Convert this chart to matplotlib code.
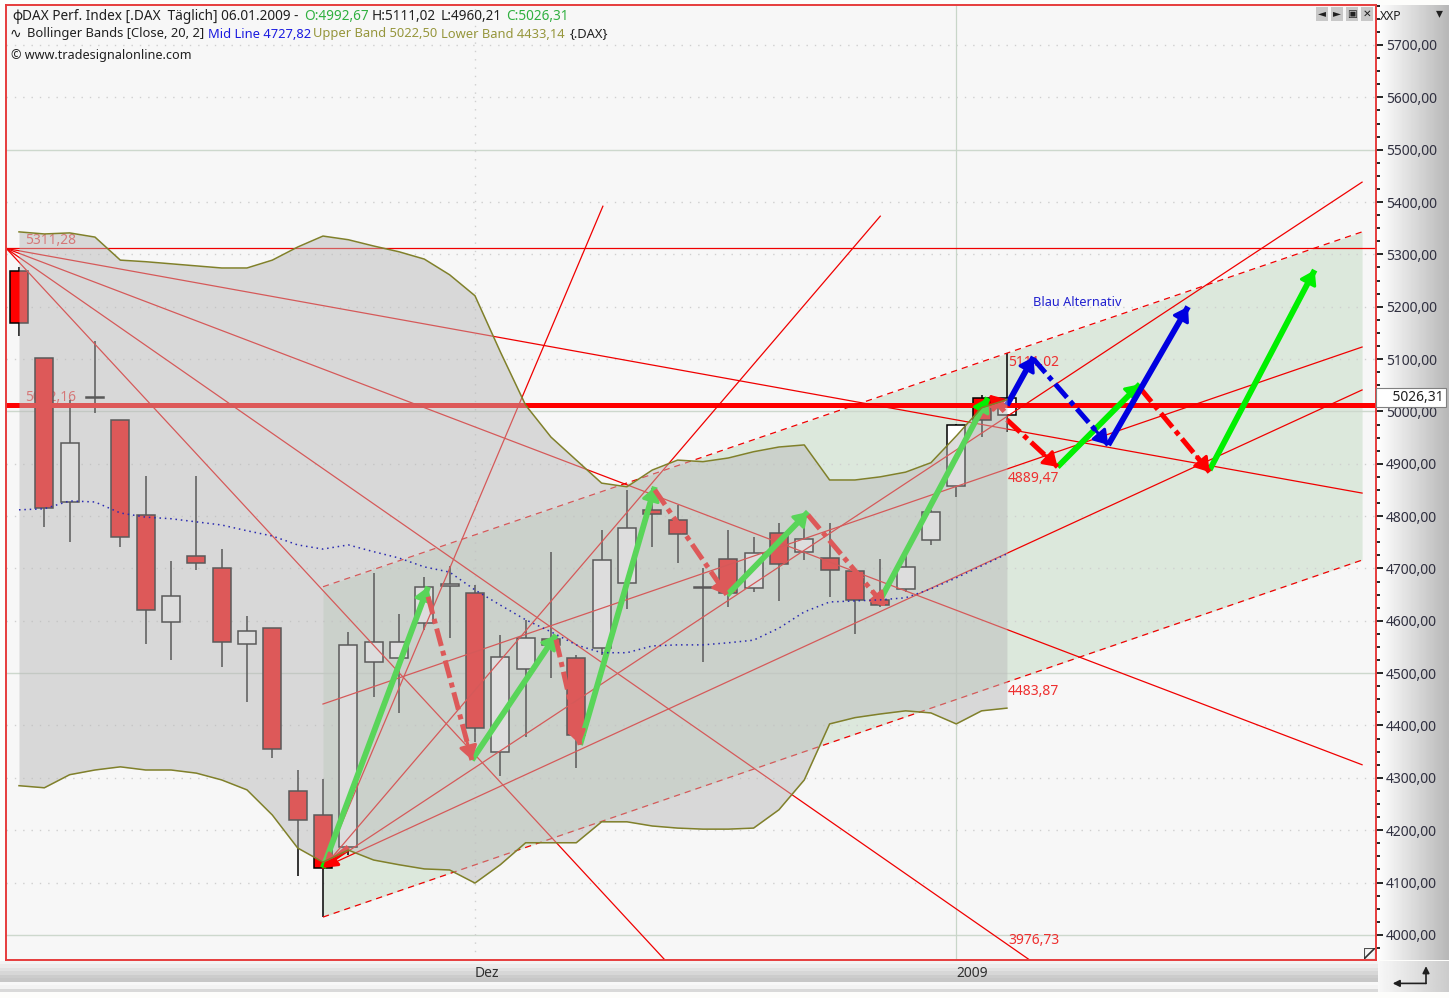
import numpy as np
import matplotlib
matplotlib.use('Agg')
import matplotlib.pyplot as plt

plt.rcParams['font.family'] = ['Noto Sans', 'DejaVu Sans']

### candle data, one entry per trading day

opens = [5268, 5102, 4827, 5026, 4984, 4802, 4598, 4724, 4701, 4556, 4586, 4275, 4229, 4168, 4521, 4529, 4596, 4667, 4653, 4350,
         4508, 4565, 4529, 4548, 4672, 4812, 4793, 4663, 4718, 4663, 4768, 4732, 4720, 4695, 4640, 4661, 4755, 4858, 5026, 4992.67]
highs = [5275, 5102, 5022, 5135, 4984, 4877, 4714, 4877, 4737, 4609, 4586, 4315, 4298, 4579, 4691, 4613, 4684, 4705, 4669, 4573,
         4602, 4732, 4535, 4774, 4850, 4854, 4821, 4701, 4774, 4760, 4787, 4783, 4787, 4699, 4718, 4724, 4812, 4976, 5031, 5111.02]
lows = [5144, 4779, 4751, 4997, 4741, 4556, 4525, 4697, 4512, 4445, 4338, 4113, 4034, 4153, 4455, 4424, 4583, 4567, 4369, 4304,
        4378, 4491, 4319, 4535, 4623, 4741, 4711, 4521, 4627, 4655, 4638, 4716, 4646, 4575, 4627, 4655, 4745, 4837, 4951, 4960.21]
closes = [5169, 4816, 4940, 5028, 4760, 4621, 4648, 4711, 4560, 4581, 4355, 4220, 4128, 4554, 4560, 4560, 4665, 4671, 4395, 4531,
          4567, 4554, 4382, 4716, 4777, 4804, 4766, 4665, 4653, 4730, 4709, 4756, 4697, 4640, 4630, 4703, 4808, 4974, 4984, 5026.31]

upper_band = [5343, 5339, 5341, 5333, 5289, 5286, 5282, 5278, 5274, 5274, 5289, 5314, 5335, 5328, 5316, 5305, 5291, 5261, 5221, 5114,
              5012, 4951, 4907, 4863, 4856, 4888, 4907, 4904, 4911, 4923, 4932, 4936, 4869, 4869, 4875, 4884, 4902, 4953, 5007, 5022.5]
lower_band = [4285, 4281, 4306, 4315, 4321, 4315, 4315, 4309, 4296, 4277, 4229, 4166, 4139, 4162, 4143, 4134, 4126, 4124, 4099, 4134,
              4176, 4176, 4176, 4216, 4216, 4208, 4204, 4202, 4202, 4204, 4239, 4296, 4403, 4415, 4422, 4428, 4424, 4403, 4428, 4433.14]
mid_band = [4812, 4814, 4829, 4827, 4806, 4798, 4795, 4789, 4783, 4772, 4762, 4745, 4737, 4745, 4732, 4720, 4703, 4693, 4659, 4630,
            4602, 4579, 4554, 4539, 4539, 4552, 4554, 4554, 4558, 4563, 4586, 4617, 4636, 4638, 4640, 4644, 4661, 4682, 4705, 4727.82]

### drawn objects, (bar, price)

fan_high = (-0.5, 5311.28)
fan_high_ends = [(53.02, 4844), (53.02, 4325), (39.9, 3952), (25.5, 3952)]
fan_low = (12, 4128)
fan_low_ends = [(23.05, 5392), (34, 5373), (53.02, 5438), (53.02, 5041)]
mid_trend = [(12, 4441), (53.02, 5123)]
channel_x = [12, 53.02]
channel_top = [4665, 5343]
channel_bottom = [4034, 4716]
level_high = 5311.28
level_mid = 5012.16

green_arrows = [((12, 4128), (16.15, 4665)), ((17.88, 4334), (21.2, 4573)), ((22.15, 4363), (25.1, 4856)),
                ((27.95, 4649), (31.15, 4808)), ((34, 4640), (38.25, 5026)), ((41, 4894), (44.25, 5052)),
                ((47, 4888), (51.15, 5270))]
red_arrows = [((16.15, 4646), (17.88, 4334)), ((21.2, 4564), (22.15, 4363)), ((25.1, 4850), (27.95, 4649)),
              ((31.15, 4802), (34.2, 4627)), ((39, 4984), (41, 4894)), ((44.25, 5045), (47, 4884)),
              ((13, 4168), (12, 4128)), ((38.9, 5000), (38.3, 5032))]
blue_arrows = [((39, 5012), (40.05, 5104)), ((43, 4936), (46.15, 5200))]
blue_dashed = [((40.05, 5100), (43, 4936))]

price_labels = [(0.25, 5311.28, '5311,28'), (0.25, 5012.16, '5012,16')]
right_labels = [(39.05, 5111.02, '5111,02', 'top'), (39.05, 4889.47, '4889,47', 'top'),
                (39.05, 4483.87, '4483,87', 'top'), (39.05, 3976.73, '3976,73', 'bottom')]

W, H = 1449, 998
fig = plt.figure(figsize=(W / 100, H / 100), dpi=100, facecolor='#fdfdfb')


def add_axes_px(x0, y0, x1, y1, **kw):
    return fig.add_axes([x0 / W, 1 - y1 / H, (x1 - x0) / W, (y1 - y0) / H], **kw)


def gutter(x0, y0, x1, y1, grad):
    g = add_axes_px(x0, y0, x1, y1, zorder=-1)
    g.imshow(grad, cmap='gray', vmin=0, vmax=1, aspect='auto')
    g.axis('off')


gutter(1377, 5, W, 960, np.linspace(1, 0.72, 64).reshape(1, -1))
gutter(0, 961, 1378, 992, np.array([[0.95], [0.92], [0.88], [0.84], [0.80], [0.78], [0.97], [0.95], [0.85]]))
gutter(1378, 961, W, 992, np.linspace(0.97, 0.8, 64).reshape(1, -1))

ax = add_axes_px(6, 5, 1376, 960, zorder=1)
ax.set_facecolor('#f7f7f7')
ax.set_xlim(-0.513, 53.57)
ax.set_ylim(3952, 5776.4)

### background

ax.fill_between(channel_x, channel_bottom, channel_top, color=(160 / 255, 200 / 255, 160 / 255), alpha=0.3, lw=0, zorder=1)

for lvl in range(4000, 5800, 100):
    if lvl % 500 == 0:
        ax.axhline(lvl, color='#cdd8cd', lw=1.0, zorder=1.5)
    else:
        ax.axhline(lvl, color='#cfcfcf', lw=1.0, ls=(0, (1, 5)), zorder=1.5)
ax.axvline(18, color='#cfcfcf', lw=1.0, ls=(0, (1, 5)), zorder=1.5)
ax.axvline(37, color='#c8d6c8', lw=0.9, zorder=1.5)

for bx, by, txt in price_labels:
    ax.text(bx, by, txt, color='#f03c3c', fontsize=10, va='bottom', zorder=2)

### candles

bars = np.arange(len(opens))
ax.vlines(bars, lows, highs, color='black', lw=1.1, zorder=3)
for i in bars:
    lo, hi = min(opens[i], closes[i]), max(opens[i], closes[i])
    col = 'red' if closes[i] < opens[i] else 'white'
    ax.bar(i, hi - lo, bottom=lo, width=0.71, color=col, edgecolor='black', lw=1.1, zorder=3.1)

### lines

line_red = '#f00000'
ax.axhline(level_high, color=line_red, lw=0.9, zorder=4)
ax.axhline(level_mid, color='red', lw=3.6, zorder=4)
for end in fan_high_ends:
    ax.plot([fan_high[0], end[0]], [fan_high[1], end[1]], color=line_red, lw=0.9, zorder=4)
for end in fan_low_ends:
    ax.plot([fan_low[0], end[0]], [fan_low[1], end[1]], color=line_red, lw=0.9, zorder=4)
ax.plot([p[0] for p in mid_trend], [p[1] for p in mid_trend], color=line_red, lw=0.9, zorder=4)
ax.plot(channel_x, channel_top, color=line_red, lw=0.9, ls=(0, (5, 4)), zorder=4)
ax.plot(channel_x, channel_bottom, color=line_red, lw=0.9, ls=(0, (5, 4)), zorder=4)

for bx, by, txt, va in right_labels:
    offset = -1.5 if va == 'top' else -1
    ax.annotate(txt, (bx, by), xytext=(0, offset), textcoords='offset points', color='#ee3030', fontsize=10, va=va, zorder=4.5)


def arrow(start, end, col, dashed=False):
    start, end = np.array(start), np.array(end)
    if dashed:
        ax.plot([start[0], end[0]], [start[1], end[1]], color=col, lw=3.6, ls=(0, (3.6, 1, 1, 1)), zorder=5)
    else:
        ax.plot([start[0], end[0]], [start[1], end[1]], color=col, lw=4.2, zorder=5, solid_capstyle='butt')
    # head drawn on a short solid stub so it always points along the shaft
    a, b = ax.transData.transform([start, end])
    length = np.hypot(*(b - a))
    stub = min(20, length)
    tail = ax.transData.inverted().transform(b - (b - a) / length * stub)
    ax.annotate('', xy=end, xytext=tail, zorder=5,
                arrowprops=dict(arrowstyle='-|>,head_length=0.55,head_width=0.36', color=col, lw=2.2,
                                mutation_scale=15, shrinkA=0, shrinkB=0))


for s, e in green_arrows:
    arrow(s, e, '#00f000')
for s, e in red_arrows:
    arrow(s, e, '#ff0000', dashed=True)
for s, e in blue_arrows:
    arrow(s, e, '#0000e0')
for s, e in blue_dashed:
    arrow(s, e, '#0000e0', dashed=True)

### bollinger bands on top of everything else

ax.fill_between(bars, lower_band, upper_band, color=(185 / 255, 185 / 255, 185 / 255), alpha=0.486, lw=0, zorder=6)
ax.plot(bars, upper_band, color='#80802a', lw=1.1, zorder=7)
ax.plot(bars, lower_band, color='#80802a', lw=1.1, zorder=7)
ax.plot(bars, mid_band, color='#2a2ab0', lw=1.1, ls=(0, (1, 2.5)), zorder=7)

ax.text(40.03, 5208, 'Blau Alternativ', color='#2020d0', fontsize=9.2, va='center', zorder=7)

### axes

ax.yaxis.tick_right()
ax.set_yticks(range(4000, 5800, 100))
ax.set_yticklabels(['%d,00' % v for v in range(4000, 5800, 100)])
ax.set_yticks(np.arange(3975, 5776, 25), minor=True)
ax.tick_params(axis='y', which='major', length=5, width=1.2, pad=2, labelsize=10, labelcolor='#303040')
ax.tick_params(axis='y', which='minor', length=3, width=1.2)
ax.set_xticks([18, 37])
ax.set_xticklabels(['Dez', '2009'], ha='left', fontsize=10, color='#303030')
ax.tick_params(axis='x', length=0, pad=4)
for s in ax.spines.values():
    s.set_color('#e63c3c')
    s.set_linewidth(1.4)
    s.set_zorder(10)

ax.text(1.0015, 5026.31, '    5026,31', transform=ax.get_yaxis_transform(), fontsize=10, color='#202020', va='center', ha='left',
        bbox=dict(boxstyle='square,pad=0.15', fc='white', ec='#808080', lw=0.8), zorder=12, clip_on=False)


def label(x, y, txt, col='#202020', size=9.3):
    fig.text(x / W, 1 - y / H, txt, color=col, fontsize=size, va='center', ha='left', zorder=20)


### legend and window furniture

label(12, 16, '\u0444', size=9.8)
label(22, 16, 'DAX Perf. Index [.DAX  T\u00e4glich] 06.01.2009 -', size=9.8)
label(304, 16, 'O:4992,67', '#30b040', size=9.8)
label(372, 16, 'H:5111,02', size=9.8)
label(441, 16, 'L:4960,21', size=9.8)
label(506, 16, 'C:5026,31', '#30b040', size=9.8)
label(10, 34, '\u223f', size=10)
label(27, 34, 'Bollinger Bands [Close, 20, 2]')
label(208, 34, 'Mid Line 4727,82', '#1a1ae0')
label(313, 34, 'Upper Band 5022,50', '#96963c')
label(441, 34, 'Lower Band 4433,14', '#96963c')
label(570, 34, '{.DAX}')
label(11, 55, '\u00a9 www.tradesignalonline.com', size=9.1)
label(1380, 16, 'XXP', size=8.8)
label(1436, 14, '\u25be', size=10)

for bx, glyph in zip([1316, 1331, 1346, 1361], ['\u25c4', '\u25ba', '\u25a3', '\u2715']):
    fig.text((bx + 6) / W, 1 - 14 / H, glyph, fontsize=7.5, ha='center', va='center', color='#202020', zorder=20,
             bbox=dict(boxstyle='square,pad=0.15', fc='#c8c8c8', ec='none'))

corner = add_axes_px(1364, 948, 1375, 959, zorder=3)
corner.plot([0, 1, 1, 0, 0], [0, 0, 1, 1, 0], color='#505050', lw=0.8)
corner.plot([0, 1], [0, 1], color='#303030', lw=1.2)
corner.set_xlim(0, 1)
corner.set_ylim(0, 1)
corner.axis('off')

enter = add_axes_px(1390, 965, 1435, 988, zorder=3)
enter.annotate('', xy=(0.06, 0.2), xytext=(0.8, 0.2), arrowprops=dict(arrowstyle='-|>', color='#202020', lw=1.2, shrinkA=0, shrinkB=0))
enter.annotate('', xy=(0.8, 0.95), xytext=(0.8, 0.2), arrowprops=dict(arrowstyle='-|>', color='#202020', lw=1.2, shrinkA=0, shrinkB=0))
enter.set_xlim(0, 1)
enter.set_ylim(0, 1)
enter.axis('off')

fig.savefig('out.png', dpi=100, facecolor=fig.get_facecolor())
